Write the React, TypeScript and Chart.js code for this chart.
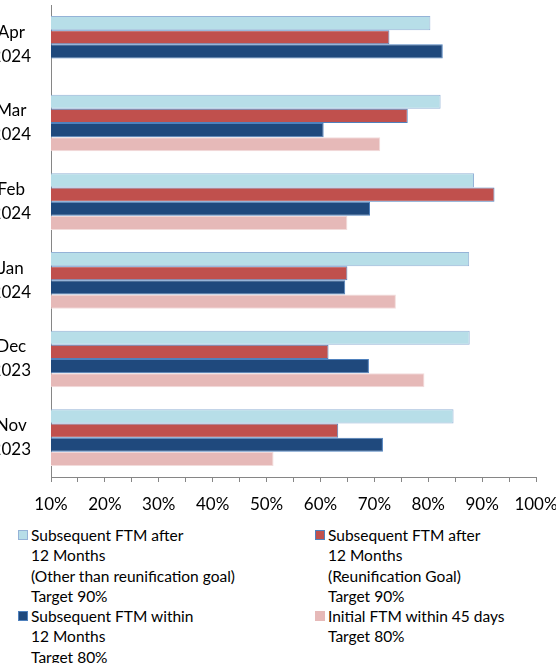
import React, { useEffect, useRef } from 'react';
import { Chart, registerables } from 'chart.js';

Chart.register(...registerables);

// ---- Data ----
const categories: string[][] = [
  ['Apr', '2024'],
  ['Mar', '2024'],
  ['Feb', '2024'],
  ['Jan', '2024'],
  ['Dec', '2023'],
  ['Nov', '2023'],
];
const subsequentAfterOther: (number | null)[] = [80.4, 82.3, 88.5, 87.6, 87.7, 84.7];
const subsequentAfterReunification: (number | null)[] = [72.8, 76.2, 92.3, 65.0, 61.5, 63.3];
const subsequentWithin: (number | null)[] = [82.7, 60.6, 69.2, 64.6, 69.0, 71.6];
const initialWithin45: (number | null)[] = [null, 71.1, 65.0, 74.0, 79.3, 51.3];

const seriesLabels: string[][] = [
  ['Subsequent FTM after', '12 Months', '(Other than reunification goal)', 'Target 90%'],
  ['Subsequent FTM after', '12 Months', '(Reunification Goal)', 'Target 90%'],
  ['Subsequent FTM within', '12 Months', 'Target 80%'],
  ['Initial FTM within 45 days', 'Target 80%'],
];
const axisMin = 10;
const axisMax = 100;
const axisMinorStep = 5;
const axisLabelStep = 10;

// ---- Styles ----
const fills = ['#B7DEE8', '#C0504D', '#1F497D', '#E6B9B8'];
const borders = ['#95B3D7', '#4F81BD', '#4F81BD', '#F2DCDB'];
const axisColor = '#868686';
const FONT = 'Lato, "Open Sans", sans-serif';

export default function App() {
  const canvasRef = useRef<HTMLCanvasElement | null>(null);

  useEffect(() => {
    const canvas = canvasRef.current;
    if (!canvas) return;
    const seriesData = [subsequentAfterOther, subsequentAfterReunification, subsequentWithin, initialWithin45];
    const chart = new Chart(canvas, {
      type: 'bar',
      data: {
        labels: categories,
        datasets: seriesData.map((d, i) => ({
          label: seriesLabels[i].join(' '),
          data: d,
          backgroundColor: fills[i],
          borderColor: borders[i],
          borderWidth: 1,
          categoryPercentage: 0.72,
          barPercentage: 1,
        })),
      },
      options: {
        indexAxis: 'y',
        responsive: false,
        animation: false,
        layout: { padding: { top: 5, right: 20, left: 0, bottom: 0 } },
        plugins: {
          legend: { display: false },
          tooltip: { enabled: false },
        },
        scales: {
          x: {
            type: 'linear',
            min: axisMin,
            max: axisMax,
            ticks: {
              stepSize: axisMinorStep,
              autoSkip: false,
              maxRotation: 0,
              padding: 12,
              color: '#000',
              font: { family: FONT, size: 17 },
              callback: (v: any) => (Number(v) % axisLabelStep === 0 ? `${v}%` : ''),
            },
            grid: {
              display: true,
              drawOnChartArea: false,
              drawTicks: true,
              tickLength: 5,
              color: axisColor,
            },
            border: { display: true, color: axisColor },
            afterFit: (s: any) => {
              s.height = 35;
              s.paddingLeft = 0;
              s.paddingRight = 0;
            },
          },
          y: {
            type: 'category',
            ticks: {
              crossAlign: 'center',
              padding: 20,
              autoSkip: false,
              color: '#000',
              font: { family: FONT, size: 17, lineHeight: 24 / 17 },
            },
            grid: { display: false, drawTicks: false },
            border: { display: true, color: axisColor },
            afterFit: (s: any) => {
              s.width = 59;
              s.paddingTop = 0;
              s.paddingBottom = 0;
            },
          },
        },
      } as any,
    });
    let alive = true;
    if ((document as any).fonts && (document as any).fonts.load) {
      Promise.all([
        (document as any).fonts.load('17px Lato'),
        (document as any).fonts.load('15.5px Lato'),
      ]).then(() => {
        if (alive) chart.update();
      }).catch(() => {});
    }
    return () => {
      alive = false;
      chart.destroy();
    };
  }, []);

  const order = [0, 1, 2, 3];

  return (
    <div
      style={{
        position: 'absolute',
        left: 0,
        top: 0,
        width: 556,
        height: 663,
        overflow: 'hidden',
        background: '#fff',
      }}
    >
      <canvas
        ref={canvasRef}
        width={564}
        height={512}
        style={{ position: 'absolute', left: -8, top: 0, width: 564, height: 512 }}
      />
      <div
        style={{
          position: 'absolute',
          left: 0,
          top: 525,
          width: 556,
          display: 'grid',
          gridTemplateColumns: '297px 259px',
          fontFamily: FONT,
          fontSize: 15.5,
          lineHeight: '20.3px',
          color: '#000',
        }}
      >
        {order.map((i) => (
          <div key={i} style={{ position: 'relative', paddingLeft: 31 }}>
            <span
              style={{
                position: 'absolute',
                left: 18,
                top: 5,
                width: 10,
                height: 10,
                boxSizing: 'border-box',
                background: fills[i],
                border: `1px solid ${i === 3 ? fills[i] : borders[i]}`,
              }}
            />
            {seriesLabels[i].map((line, k) => (
              <div key={k} style={{ whiteSpace: 'nowrap' }}>
                {line}
              </div>
            ))}
          </div>
        ))}
      </div>
    </div>
  );
}
